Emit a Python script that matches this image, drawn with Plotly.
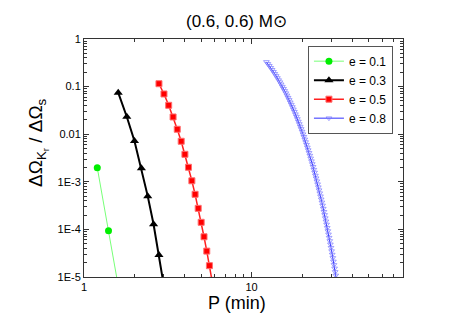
import plotly.graph_objects as go

# e = 0.1
p_e01 = [1.2, 1.4, 1.6]
r_e01 = [1.98e-3, 9.4e-5, 6.5e-6]

# e = 0.3
p_e03 = [1.6, 1.8, 2.0, 2.2, 2.4, 2.6, 2.8, 3.0]
r_e03 = [7.45e-2, 2.33e-2, 7.2e-3, 1.92e-3, 5.0e-4, 1.28e-4, 2.9e-5, 6.3e-6]

# e = 0.5
p_e05 = [2.8, 3.0, 3.2, 3.4, 3.6, 3.8, 4.0, 4.2, 4.4, 4.6, 4.8, 5.0, 5.2, 5.4, 5.6, 5.8]
r_e05 = [0.115, 0.070, 0.0405, 0.0230, 0.0127, 7.1e-3, 3.78e-3, 2.02e-3, 1.05e-3,
         5.46e-4, 2.77e-4, 1.41e-4, 7.0e-5, 3.5e-5, 1.73e-5, 8.5e-6]

# e = 0.8
p_e08 = [12.25, 12.5, 12.75, 13.0, 13.25, 13.5, 13.75, 14.0, 14.25, 14.5, 14.75, 15.0,
         15.25, 15.5, 15.75, 16.0, 16.25, 16.5, 16.75, 17.0, 17.25, 17.5, 17.75, 18.0,
         18.25, 18.5, 18.75, 19.0, 19.25, 19.5, 19.75, 20.0, 20.25, 20.5, 20.75, 21.0,
         21.25, 21.5, 21.75, 22.0, 22.25, 22.5, 22.75, 23.0, 23.25, 23.5, 23.75, 24.0,
         24.25, 24.5, 24.75, 25.0, 25.25, 25.5, 25.75, 26.0, 26.25, 26.5, 26.75, 27.0,
         27.25, 27.5, 27.75, 28.0, 28.25, 28.5, 28.75, 29.0, 29.25, 29.5, 29.75, 30.0,
         30.25, 30.5, 30.75, 31.0, 31.25, 31.5, 31.75, 32.0]
r_e08 = [0.330, 0.301, 0.274, 0.249, 0.226, 0.205, 0.186, 0.168, 0.152, 0.137, 0.124, 0.112,
         0.100, 0.0904, 0.0813, 0.0730, 0.0654, 0.0586, 0.0525, 0.0469, 0.0419, 0.0374, 0.0334, 0.0297,
         0.0264, 0.0235, 0.0209, 0.0185, 0.0164, 0.0145, 0.0129, 0.0114,
         0.0100, 8.83e-3, 7.78e-3, 6.85e-3, 6.02e-3, 5.29e-3, 4.64e-3, 4.06e-3,
         3.56e-3, 3.11e-3, 2.72e-3, 2.37e-3, 2.07e-3, 1.80e-3, 1.57e-3, 1.36e-3,
         1.19e-3, 1.03e-3, 8.91e-4, 7.72e-4, 6.68e-4, 5.77e-4, 4.98e-4, 4.30e-4,
         3.70e-4, 3.19e-4, 2.74e-4, 2.35e-4, 2.02e-4, 1.73e-4, 1.48e-4, 1.27e-4,
         1.08e-4, 9.25e-5, 7.89e-5, 6.72e-5, 5.72e-5, 4.87e-5, 4.13e-5, 3.51e-5,
         2.97e-5, 2.52e-5, 2.13e-5, 1.80e-5, 1.52e-5, 1.28e-5, 1.08e-5, 9.10e-6]

y_tickvals = [1, 0.1, 0.01, 1e-3, 1e-4, 1e-5]
y_ticktext = ["1", "0.1", "0.01", "1E-3", "1E-4", "1E-5"]
x_tickvals = [1, 10]
x_ticktext = ["1", "10"]

FONT = "Liberation Sans, Arial, sans-serif"
AX = "#333333"

fig = go.Figure()
fig.add_trace(go.Scatter(
    x=p_e01, y=r_e01, name="e = 0.1", mode="lines+markers",
    line=dict(color="#77ff77", width=1),
    marker=dict(symbol="circle", size=7, color="#00ee00"),
))
fig.add_trace(go.Scatter(
    x=p_e03, y=r_e03, name="e = 0.3", mode="lines+markers",
    line=dict(color="black", width=2),
    marker=dict(symbol="triangle-up", size=8, color="black"),
))
fig.add_trace(go.Scatter(
    x=p_e05, y=r_e05, name="e = 0.5", mode="lines+markers",
    line=dict(color="#ff2020", width=1.5),
    marker=dict(symbol="square", size=6, color="#ff0000",
                line=dict(color="#ff7070", width=1)),
))
fig.add_trace(go.Scatter(
    x=p_e08, y=r_e08, name="e = 0.8", mode="lines+markers",
    line=dict(color="#3030ff", width=1),
    marker=dict(symbol="triangle-down-open", size=5, color="rgba(120,120,255,0.7)",
                line=dict(width=1)),
))

# minor tick positions
x_minor = [2, 3, 4, 5, 6, 7, 8, 9, 20, 30, 40, 50, 60, 70]
y_minor = [m * 10.0 ** k for k in range(-5, 0) for m in range(2, 10)]

# page body adds an 8px offset, so the margins are shifted to compensate
fig.update_layout(
    width=469, height=332,
    margin=dict(l=76, r=74, t=31, b=63),
    paper_bgcolor="white", plot_bgcolor="white",
    font=dict(family=FONT, size=11, color="black"),
    showlegend=True,
    legend=dict(
        x=0.702, y=0.972, xanchor="left", yanchor="top",
        bgcolor="white", bordercolor="#555555", borderwidth=1,
        font=dict(family=FONT, size=12),
        tracegroupgap=0, itemwidth=30,
    ),
    annotations=[
        dict(text="(0.6, 0.6) M\u2299", x=(236 - 84) / 319, y=(277 - 21) / 238,
             xref="paper", yref="paper", xanchor="center", yanchor="middle",
             showarrow=False, font=dict(size=17, family=FONT)),
        dict(text="P (min)", x=(237 - 84) / 319, y=(277 - 303) / 238,
             xref="paper", yref="paper", xanchor="center", yanchor="middle",
             showarrow=False, font=dict(size=18, family=FONT)),
        dict(text="\u0394\u03a9<sub>K<sub>r</sub></sub> / \u0394\u03a9<sub>s</sub>",
             x=(38 - 84) / 319, y=(277 - 143) / 238, xref="paper", yref="paper",
             textangle=-90, xanchor="center", yanchor="middle", showarrow=False,
             font=dict(size=19, family=FONT)),
    ],
)

fig.update_xaxes(
    type="log", range=[0, 1.903],
    tickmode="array", tickvals=x_tickvals, ticktext=x_ticktext,
    ticks="inside", ticklen=5, tickcolor=AX,
    minor=dict(tickmode="array", tickvals=x_minor, ticks="inside", ticklen=3, tickcolor=AX),
    showline=True, linecolor=AX, linewidth=1, mirror="allticks",
    showgrid=False, zeroline=False,
    tickfont=dict(size=11),
)
fig.update_yaxes(
    type="log", range=[-5, 0],
    tickmode="array", tickvals=y_tickvals, ticktext=y_ticktext,
    ticks="inside", ticklen=5, tickcolor=AX,
    minor=dict(tickmode="array", tickvals=y_minor, ticks="inside", ticklen=3, tickcolor=AX),
    showline=True, linecolor=AX, linewidth=1, mirror="allticks",
    showgrid=False, zeroline=False,
    tickfont=dict(size=11),
)

fig.write_html("out.html")
